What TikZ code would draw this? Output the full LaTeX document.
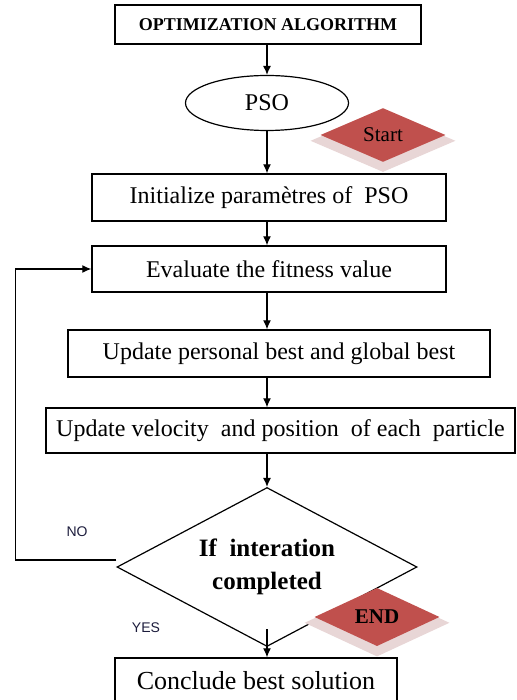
\documentclass[tikz,border=0pt]{standalone}
\usepackage{fontspec}
\setmainfont{Liberation Serif}
\setsansfont{Liberation Sans}
\usetikzlibrary{shapes.geometric,arrows.meta,shadows}
\definecolor{termred}{HTML}{C0504D}
\definecolor{termshade}{HTML}{E8D6D6}
\definecolor{labelblue}{HTML}{1C1C3C}

\begin{document}
\begin{tikzpicture}[x=1pt,y=-1pt,
    box/.style={draw,line width=1.4pt,rectangle,inner sep=0pt,font=\fontsize{24}{28}\selectfont},
    decision/.style={draw,line width=1.2pt,diamond,aspect=1.9,inner sep=0pt,align=center,font=\fontsize{25}{33}\selectfont\bfseries},
    term/.style={diamond,fill=termred,inner sep=0pt,minimum width=125pt,minimum height=52pt,
        general shadow={fill=termshade,shadow scale=1.16,shadow yshift=-5pt}},
    arrow/.style={line width=1.2pt,-{Latex[length=9pt,width=8pt]}},
    yesno/.style={font=\sffamily\fontsize{14}{16}\selectfont,text=labelblue}]
    % Page
    \useasboundingbox (0,0) rectangle (516,700);
    % Blocks of the algorithm
    \node[box,minimum width=306pt,minimum height=39pt,font=\fontsize{18}{20}\selectfont\bfseries] (algo) at (268,24.5) {OPTIMIZATION ALGORITHM};
    \node[draw,line width=1.2pt,ellipse,minimum width=163pt,minimum height=55pt,inner sep=0pt,font=\fontsize{24}{28}\selectfont] (pso) at (267,103) {PSO};
    \node[box,minimum width=354pt,minimum height=47pt] (init) at (269,197.5) {Initialize paramètres of\ \ PSO};
    \node[box,minimum width=354pt,minimum height=46pt] (eval) at (269,269) {Evaluate the fitness value};
    \node[box,minimum width=422pt,minimum height=47pt] (best) at (279,353.5) {Update personal best and global best};
    \node[box,minimum width=469pt,minimum height=45pt] (move) at (280.5,430.5) {Update velocity\ \ and position\ \ of each\ \ particle};
    \node[decision,minimum width=300pt,minimum height=159pt] (check) at (267,567) {If\ \ interation\\completed};
    \node[box,minimum width=282pt,minimum height=46pt,font=\fontsize{26}{30}\selectfont] (sol) at (256,681) {Conclude best solution};
    % Start and end marks
    \node[term,font=\fontsize{21}{24}\selectfont] (start) at (383,135) {Start};
    \node[term,font=\fontsize{21}{24}\selectfont\bfseries] (end) at (377,617) {END};
    % Connectors
    \draw[arrow] (algo.south -| pso) -- (pso.north);
    \draw[arrow] (pso.south) -- (init.north -| pso);
    \draw[arrow] (init.south -| pso) -- (eval.north -| pso);
    \draw[arrow] (eval.south -| pso) -- (best.north -| pso);
    \draw[arrow] (best.south -| pso) -- (move.north -| pso);
    \draw[arrow] (move.south -| pso) -- (check.north);
    \draw[arrow] ([yshift=18pt]check.south) -- (sol.north -| check);
    % Loop back
    \draw[arrow] ([yshift=7pt]check.west) -- ++(-101,0) |- (eval.west);
    % Labels
    \node[yesno] (no) at (77,532) {NO};
    \node[yesno] (yes) at (146,628) {YES};
\end{tikzpicture}
\end{document}
